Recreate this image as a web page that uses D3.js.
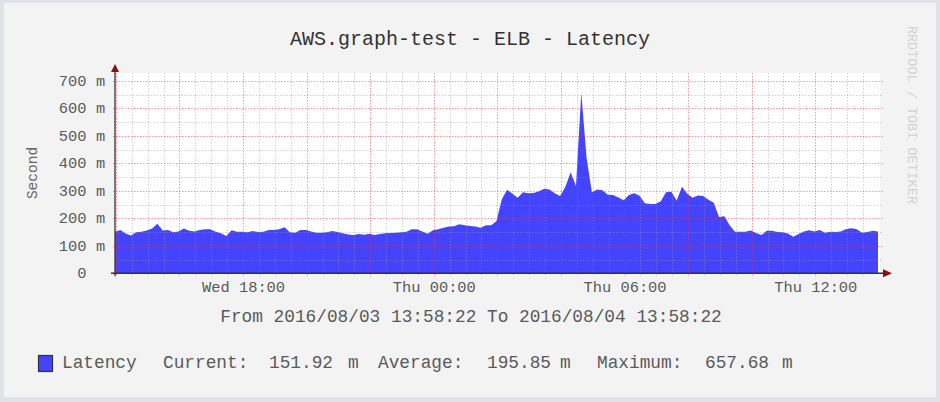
<!DOCTYPE html>
<html><head><meta charset="utf-8">
<script src="https://cdn.jsdelivr.net/npm/d3@7"></script>
<style>
html,body{margin:0;padding:0;background:#dfe3e8;}
svg{display:block;}
text{font-family:"Liberation Mono","DejaVu Sans Mono",monospace;}
</style></head>
<body>
<svg id="chart" width="940" height="402"></svg>
<script>
// ---------- data ----------
const title = "AWS.graph-test - ELB - Latency";
const yAxisTitle = "Second";
const watermark = "RRDTOOL / TOBI OETIKER";
const rangeText = "From 2016/08/03 13:58:22 To 2016/08/04 13:58:22";
const startTime = Date.UTC(2016, 7, 3, 13, 58, 22);
const endTime = Date.UTC(2016, 7, 4, 13, 58, 22);
const stepMinutes = 10;
// latency (milliseconds) sampled every 10 minutes from start
const latency = [
  151,158,145,138,149,151,156,163,180,156,
  158,149,152,163,155,152,158,160,160,151,
  146,136,157,151,151,149,154,150,151,158,
  158,160,168,149,148,158,158,152,148,148,
  149,154,150,146,141,139,143,140,144,139,
  143,146,147,148,149,151,160,160,152,144,
  157,160,166,170,171,179,175,172,170,166,
  175,175,190,270,304,290,275,295,291,292,
  299,308,305,291,281,315,368,318,657.68,420,
  295,305,302,286,285,276,266,285,291,282,
  255,252,252,262,295,297,265,315,290,275,
  283,281,268,257,205,208,175,151,151,151,
  156,147,139,155,155,150,149,145,133,143,
  152,157,152,158,148,151,150,152,161,164,
  160,148,150,155,151.92
];
const yTicks = [0,100,200,300,400,500,600,700];
const yMinorTicks = [50,150,250,350,450,550,650];
const legendName = "Latency";
const legendStats = [["Current:", "151.92", "m"], ["Average:", "195.85", "m"], ["Maximum:", "657.68", "m"]];

// ---------- drawing ----------
const svg = d3.select("#chart");
const W = 940, H = 402;
const left = 115, right = 878, canvasRight = 880, bottom = 273.3, canvasTop = 73;

const series = latency.map((v, i) => ({t: new Date(startTime + i * stepMinutes * 60000), v}));

const x = d3.scaleUtc().domain([new Date(startTime), new Date(endTime)]).range([left, right]);
const y = d3.scaleLinear().domain([0, 700]).range([bottom, 81]);

// frame + background
svg.append("rect").attr("x",0).attr("y",0).attr("width",W).attr("height",H).attr("fill","#dfe3e8");
svg.append("rect").attr("x",4).attr("y",3).attr("width",932).attr("height",394).attr("fill","#f3f3f3");

// canvas
svg.append("rect").attr("x",left).attr("y",canvasTop).attr("width",canvasRight-left).attr("height",bottom-canvasTop).attr("fill","#ffffff");

// area
const area = d3.area().x(d => x(d.t)).y0(y(0)).y1(d => y(d.v)).curve(d3.curveLinear);
svg.append("path").datum(series).attr("d", area).attr("fill","#4444ff");

// grid
const grid = svg.append("g");
const minorColor = "rgba(150,150,150,0.42)";
const majorColor = "rgba(255,40,40,0.48)";
const dash = "1.5,1.5";
const xMinor = x.ticks(d3.utcMinute.every(30)).filter(d => d.getUTCMinutes() === 30 || d.getUTCHours() % 2 === 1);
const xMajor = x.ticks(d3.utcHour.every(2));
grid.selectAll(".xminor").data(xMinor).join("line")
  .attr("x1", d => Math.round(x(d)) + 0.5).attr("x2", d => Math.round(x(d)) + 0.5)
  .attr("y1", canvasTop).attr("y2", bottom + 2)
  .attr("stroke", minorColor).attr("stroke-dasharray", dash);
grid.selectAll(".ymin").data(yMinorTicks).join("line")
  .attr("x1", left).attr("x2", canvasRight + 3)
  .attr("y1", d => Math.round(y(d)) + 0.5).attr("y2", d => Math.round(y(d)) + 0.5)
  .attr("stroke", minorColor).attr("stroke-dasharray", dash);
grid.selectAll(".xmajor").data(xMajor).join("line")
  .attr("x1", d => Math.round(x(d)) + 0.5).attr("x2", d => Math.round(x(d)) + 0.5)
  .attr("y1", canvasTop).attr("y2", bottom + 4)
  .attr("stroke", majorColor).attr("stroke-dasharray", dash);
grid.selectAll(".ymaj").data(yTicks.filter(d => d > 0)).join("line")
  .attr("x1", left - 2).attr("x2", canvasRight + 3)
  .attr("y1", d => Math.round(y(d)) + 0.5).attr("y2", d => Math.round(y(d)) + 0.5)
  .attr("stroke", majorColor).attr("stroke-dasharray", dash);

// axes lines
const axisColor = "#333";
svg.append("line").attr("x1", left - 4).attr("x2", 884).attr("y1", bottom).attr("y2", bottom).attr("stroke", axisColor).attr("stroke-width", 1.4);
svg.append("line").attr("x1", left).attr("x2", left).attr("y1", bottom + 3).attr("y2", 70).attr("stroke", axisColor).attr("stroke-width", 1.3);
// arrows
svg.append("path").attr("d", `M${left-4},72 L${left+4},72 L${left},64 Z`).attr("fill", "#8b0e0e");
svg.append("path").attr("d", `M883,${bottom-4} L883,${bottom+4} L892,${bottom} Z`).attr("fill", "#8b0e0e");

// x axis labels via d3 axis
const xAxis = d3.axisBottom(x).ticks(d3.utcHour.every(6)).tickFormat(d3.utcFormat("%a %H:%M")).tickSize(0).tickPadding(0);
const gx = svg.append("g").attr("transform", `translate(0,${bottom})`).call(xAxis);
gx.select(".domain").remove();
gx.selectAll("text").attr("font-size", 15.4).attr("fill", "#5a5a5a").attr("dy", null).attr("y", 18.5)
  .style("font-family", '"Liberation Mono", monospace');

// y axis labels
const textColor = "#5a5a5a";
svg.append("g").selectAll("text").data(yTicks).join("text")
  .attr("x", 86.5).attr("y", d => y(d) + 5)
  .attr("text-anchor", "end").attr("font-size", 15.4).attr("fill", textColor)
  .text(d => String(d));
svg.append("g").selectAll("text").data(yTicks.filter(d => d > 0)).join("text")
  .attr("x", 96).attr("y", d => y(d) + 5)
  .attr("font-size", 15.4).attr("fill", textColor)
  .text("m");

// y axis title
svg.append("text").attr("transform", "translate(37,173) rotate(-90)")
  .attr("text-anchor", "middle").attr("font-size", 14.5).attr("fill", "#666").text(yAxisTitle);

// title
svg.append("text").attr("x", 470).attr("y", 45).attr("text-anchor", "middle")
  .attr("font-size", 20).attr("fill", "#333").text(title);

// watermark
svg.append("text").attr("transform", "translate(908,115) rotate(90)")
  .attr("text-anchor", "middle").attr("font-size", 13.5).attr("fill", "#d2d2d2").text(watermark);

// range text
svg.append("text").attr("x", 471).attr("y", 322).attr("text-anchor", "middle")
  .attr("font-size", 17.8).attr("fill", textColor).text(rangeText);

// legend
svg.append("rect").attr("x", 38.5).attr("y", 355.5).attr("width", 14).attr("height", 16)
  .attr("fill", "#4444ff").attr("stroke", "#333").attr("stroke-width", 1.2);
const lg = svg.append("g").attr("font-size", 17.8).attr("fill", textColor);
lg.append("text").attr("x", 62).attr("y", 368).text(legendName);
const statX = [[163, 269, 348], [378, 487, 560], [597, 705, 782]];
legendStats.forEach((s, i) => {
  lg.append("text").attr("x", statX[i][0]).attr("y", 368).text(s[0]);
  lg.append("text").attr("x", statX[i][1]).attr("y", 368).text(s[1]);
  lg.append("text").attr("x", statX[i][2]).attr("y", 368).text(s[2]);
});
</script>
</body></html>
